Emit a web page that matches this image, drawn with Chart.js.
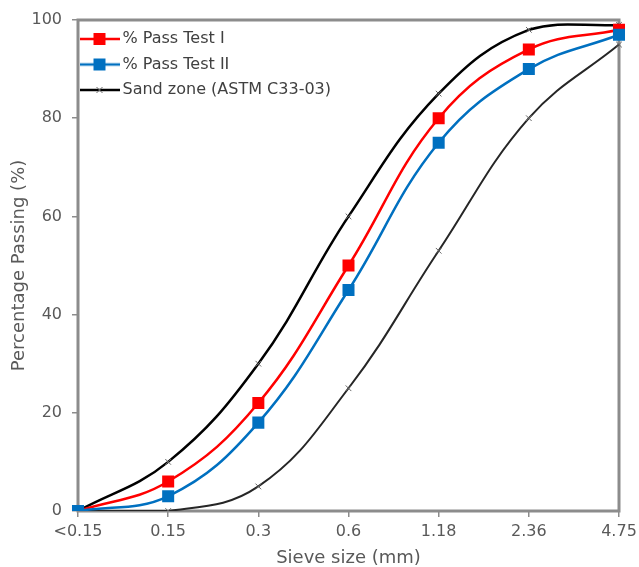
<!DOCTYPE html>
<html>
<head>
<meta charset="utf-8">
<script src="https://cdn.jsdelivr.net/npm/chart.js@4.4.0/dist/chart.umd.min.js"></script>
<style>
  html, body { margin: 0; padding: 0; background: #fff; }
  #wrap { width: 639px; height: 567px; }
</style>
</head>
<body>
<div id="wrap"><canvas id="myChart" width="639" height="567"></canvas></div>
<script>
// sieve sizes (x categories)
var categories = ['<0.15', '0.15', '0.3', '0.6', '1.18', '2.36', '4.75'];
// % passing
var passTest1 = [0, 6, 22, 50, 80, 94, 98];
var passTest2 = [0, 3, 18, 45, 75, 90, 97];
// ASTM C33-03 sand zone limits
var zoneUpper = [0, 10, 30, 60, 85, 98, 99];
var zoneLower = [0, 0, 5, 25, 53, 80, 95];
var yTicks = [0, 20, 40, 60, 80, 100];

var FONT = "'DejaVu Sans', sans-serif";
var TEXT = '#595959';
var FRAME = '#8c8c8c';
var TENSION = 0.4;

// small canvas for legend: line + marker
function legendIcon(color, marker, lw) {
    var c = document.createElement('canvas');
    c.width = 40; c.height = 14;
    var g = c.getContext('2d');
    g.strokeStyle = color;
    g.lineWidth = lw;
    g.beginPath(); g.moveTo(0, 7); g.lineTo(40, 7); g.stroke();
    if (marker == 'rect') {
        g.fillStyle = color;
        g.fillRect(14, 1, 12, 12);
    } else {
        g.strokeStyle = '#666';
        g.lineWidth = 1;
        g.beginPath();
        g.moveTo(17, 4); g.lineTo(23, 10);
        g.moveTo(23, 4); g.lineTo(17, 10);
        g.stroke();
    }
    return c;
}

// grey frame round the plot area + legend moved inside the top left corner
var frame = {
    id: 'frame',
    afterLayout: function (chart) {
        var lg = chart.legend, a = chart.chartArea;
        var h = lg.height;
        lg.left = a.left - 3;
        lg.right = lg.left + lg.width;
        lg.top = a.top + 1.5;
        lg.bottom = lg.top + h;
    },
    beforeDatasetsDraw: function (chart) {
        var a = chart.chartArea, ctx = chart.ctx;
        ctx.save();
        ctx.strokeStyle = FRAME;
        ctx.lineWidth = 3;
        ctx.strokeRect(a.left, a.top, a.right - a.left, a.bottom - a.top);
        ctx.restore();
    }
};

var ctx = document.getElementById('myChart');

var chart = new Chart(ctx, {
    type: 'line',
    data: {
        labels: categories,
        datasets: [{
            label: '% Pass Test I',
            data: passTest1,
            borderColor: '#ff0000',
            backgroundColor: '#ff0000',
            borderWidth: 2.5,
            pointStyle: 'rect',
            pointRadius: 8.5,
            pointBorderWidth: 0,
            tension: TENSION,
            order: 1
        }, {
            label: '% Pass Test II',
            data: passTest2,
            borderColor: '#0070c0',
            backgroundColor: '#0070c0',
            borderWidth: 2.5,
            pointStyle: 'rect',
            pointRadius: 8.5,
            pointBorderWidth: 0,
            tension: TENSION,
            order: 0
        }, {
            label: 'Sand zone (ASTM C33-03)',
            data: zoneUpper,
            borderColor: '#000000',
            backgroundColor: '#000000',
            borderWidth: 2.5,
            pointStyle: 'crossRot',
            pointRadius: 4,
            pointBorderColor: '#666',
            pointBorderWidth: 1,
            tension: TENSION,
            order: 2
        }, {
            label: 'lower',
            data: zoneLower,
            borderColor: '#262626',
            backgroundColor: '#262626',
            borderWidth: 2,
            pointStyle: 'crossRot',
            pointRadius: 4,
            pointBorderColor: '#666',
            pointBorderWidth: 1,
            tension: TENSION,
            order: 3
        }]
    },
    options: {
        responsive: false,
        animation: false,
        layout: { padding: { top: 20, right: 20, left: 9, bottom: -2 } },
        plugins: {
            tooltip: { enabled: false },
            legend: {
                position: 'chartArea',
                align: 'start',
                labels: {
                    font: { family: FONT, size: 16 },
                    color: '#404040',
                    usePointStyle: true,
                    pointStyleWidth: 30,
                    padding: 9.5,
                    generateLabels: function (ch) {
                        var icons = [
                            legendIcon('#ff0000', 'rect', 2.5),
                            legendIcon('#0070c0', 'rect', 2.5),
                            legendIcon('#000000', 'x', 2.5)
                        ];
                        return [0, 1, 2].map(function (i) {
                            return {
                                text: ch.data.datasets[i].label,
                                pointStyle: icons[i],
                                fontColor: '#404040',
                                datasetIndex: i,
                                lineWidth: 0,
                                hidden: false
                            };
                        });
                    }
                }
            }
        },
        scales: {
            x: {
                offset: false,
                border: { display: false },
                grid: { display: true, drawOnChartArea: false, drawTicks: true, tickLength: 6, color: FRAME, lineWidth: 1.5 },
                ticks: { color: TEXT, font: { family: FONT, size: 16 }, padding: 5, maxRotation: 0 },
                title: { display: true, text: 'Sieve size (mm)', color: TEXT, font: { family: FONT, size: 18 }, padding: { top: 0, bottom: 0 } },
                afterFit: function (scale) {
                    scale.paddingLeft = 0;
                    scale.paddingRight = 0;
                    scale.height = 58;
                }
            },
            y: {
                min: 0,
                max: 100,
                border: { display: false },
                grid: { display: true, drawOnChartArea: false, drawTicks: true, tickLength: 6, color: FRAME, lineWidth: 1.5 },
                afterBuildTicks: function (axis) {
                    axis.ticks = yTicks.map(function (v) { return { value: v }; });
                },
                ticks: { color: TEXT, font: { family: FONT, size: 16 }, padding: 10 },
                title: { display: true, text: 'Percentage Passing (%)', color: TEXT, font: { family: FONT, size: 18 }, padding: { top: 0, bottom: 0 } },
                afterFit: function (scale) {
                    scale.paddingTop = 0;
                    scale.paddingBottom = 0;
                    scale.width = 69;
                }
            }
        }
    },
    plugins: [frame]
});
</script>
</body>
</html>
